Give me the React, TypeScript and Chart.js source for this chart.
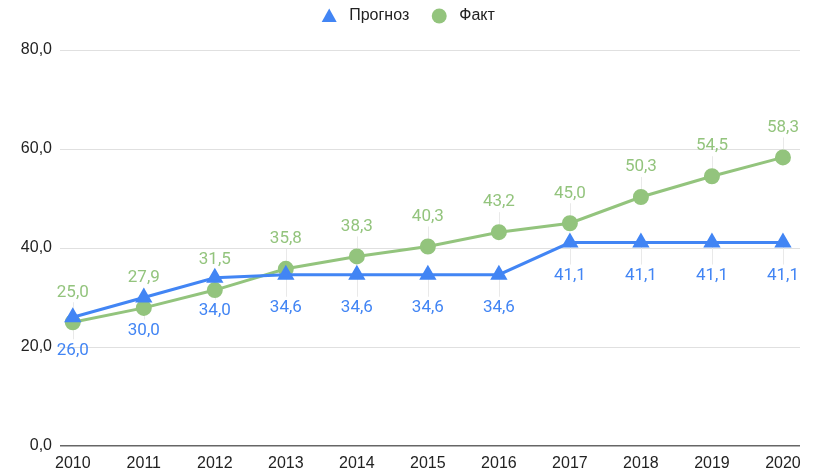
import React, { useEffect, useRef } from "react";
import { Chart, registerables } from "chart.js";

Chart.register(...registerables);

const years = [2010, 2011, 2012, 2013, 2014, 2015, 2016, 2017, 2018, 2019, 2020];
const forecast = [26.0, 30.0, 34.0, 34.6, 34.6, 34.6, 34.6, 41.1, 41.1, 41.1, 41.1];
const actual = [25.0, 27.9, 31.5, 35.8, 38.3, 40.3, 43.2, 45.0, 50.3, 54.5, 58.3];
const yTicks = [0, 20, 40, 60, 80];
const seriesNames = ["Прогноз", "Факт"];

const BLUE = "#4285F4";
const GREEN = "#93C47D";
const AXIS_FONT = "'Liberation Sans', Arial, sans-serif";

const fmt = (v: number) => v.toFixed(1).replace(".", ",");

const labelPlugin = {
  id: "valueLabels",
  afterDatasetsDraw(chart: any) {
    const ctx = chart.ctx;
    ctx.save();
    ctx.font = "17px Roboto";
    ctx.textAlign = "center";
    ctx.textBaseline = "middle";
    chart.data.datasets.forEach((ds: any, di: number) => {
      const meta = chart.getDatasetMeta(di);
      const above = di === 1;
      meta.data.forEach((pt: any, i: number) => {
        const v = ds.data[i].y;
        const ly = above ? pt.y - 30 : pt.y + 33;
        ctx.fillStyle = ds.borderColor;
        ctx.fillText(fmt(v), pt.x, ly);
      });
    });
    ctx.restore();
  },
};

const leaderPlugin = {
  id: "leaders",
  beforeDatasetsDraw(chart: any) {
    const ctx = chart.ctx;
    ctx.save();
    ctx.strokeStyle = "#e9e9e9";
    ctx.lineWidth = 1;
    chart.data.datasets.forEach((ds: any, di: number) => {
      const meta = chart.getDatasetMeta(di);
      const above = di === 1;
      meta.data.forEach((pt: any) => {
        ctx.beginPath();
        const x = Math.round(pt.x) + 0.5;
        ctx.moveTo(x, pt.y);
        ctx.lineTo(x, above ? pt.y - 20 : pt.y + 22);
        ctx.stroke();
      });
    });
    ctx.restore();
  },
};

const legendPlugin = {
  id: "customLegend",
  afterDraw(chart: any) {
    const ctx = chart.ctx;
    ctx.save();
    ctx.font = `16px ${AXIS_FONT}`;
    ctx.textBaseline = "middle";
    ctx.textAlign = "left";
    const markerGap = 20;
    const itemGap = 30;
    const widths = seriesNames.map((n) => ctx.measureText(n).width);
    const total = widths.reduce((a, b) => a + b, 0) + markerGap * 2 + itemGap + 8;
    let x = chart.width / 2 - total / 2 - 2;
    const y = 16;
    chart.data.datasets.forEach((ds: any, i: number) => {
      const cx = x + 8;
      ctx.fillStyle = ds.borderColor;
      ctx.beginPath();
      if (ds.pointStyle === "triangle") {
        ctx.moveTo(cx, y - 7.5);
        ctx.lineTo(cx + 7.5, y + 6);
        ctx.lineTo(cx - 7.5, y + 6);
        ctx.closePath();
      } else {
        ctx.arc(cx, y, 7.5, 0, Math.PI * 2);
      }
      ctx.fill();
      ctx.fillStyle = "#222";
      ctx.fillText(seriesNames[i], cx + markerGap, y);
      x = cx + markerGap + widths[i] + itemGap - 8;
    });
    ctx.restore();
  },
};

export default function App() {
  const ref = useRef<HTMLCanvasElement>(null);
  useEffect(() => {
    document.body.style.margin = "0";
    const chart = new Chart(ref.current!, {
      type: "line",
      data: {
        datasets: [
          {
            label: seriesNames[0],
            data: years.map((x, i) => ({ x, y: forecast[i] })),
            borderColor: BLUE,
            backgroundColor: BLUE,
            borderWidth: 3,
            pointStyle: "triangle",
            pointRadius: 7,
            tension: 0,
          },
          {
            label: seriesNames[1],
            data: years.map((x, i) => ({ x, y: actual[i] })),
            borderColor: GREEN,
            backgroundColor: GREEN,
            borderWidth: 3,
            pointStyle: "circle",
            pointRadius: 6.5,
            tension: 0,
          },
        ],
      },
      options: {
        animation: false,
        responsive: false,
        layout: { padding: { left: 0, right: 20, top: 50, bottom: 0 } },
        plugins: {
          legend: { display: false },
          tooltip: { enabled: false },
        },
        scales: {
          x: {
            type: "linear",
            min: 2009.82,
            max: 2020.24,
            grid: { display: false },
            border: { display: false },
            afterBuildTicks(scale: any) {
              scale.ticks = years.map((v) => ({ value: v }));
            },
            afterFit(scale: any) {
              scale.height = 23;
            },
            ticks: {
              autoSkip: false,
              maxRotation: 0,
              padding: 0,
              color: "#222",
              font: { family: AXIS_FONT, size: 16 },
              callback: (v: any) => String(v),
            },
          },
          y: {
            min: 0,
            max: 80,
            afterBuildTicks(scale: any) {
              scale.ticks = yTicks.map((v) => ({ value: v }));
            },
            afterFit(scale: any) {
              scale.width = 60;
            },
            grid: {
              drawTicks: false,
              color: (c: any) => (c.tick && c.tick.value === 0 ? "#666" : "#e0e0e0"),
              lineWidth: (c: any) => (c.tick && c.tick.value === 0 ? 1.5 : 1),
            },
            border: { display: false },
            ticks: {
              padding: 8,
              color: "#222",
              font: { family: AXIS_FONT, size: 16 },
              callback: (v: any) => fmt(Number(v)),
            },
          },
        },
      },
      plugins: [leaderPlugin, labelPlugin, legendPlugin],
    } as any);
    return () => chart.destroy();
  }, []);
  return (
    <div style={{ width: 820, height: 469 }}>
      <canvas ref={ref} width={820} height={469} />
    </div>
  );
}
